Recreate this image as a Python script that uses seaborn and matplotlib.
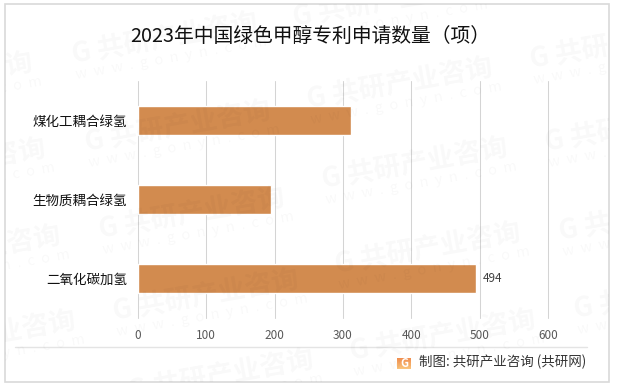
import numpy as np
import pandas as pd
import seaborn as sns
import matplotlib
matplotlib.use('Agg')
import matplotlib.pyplot as plt
from matplotlib.colors import LinearSegmentedColormap
from matplotlib.patches import Rectangle

categories = ['煤化工耦合绿氢', '生物质耦合绿氢', '二氧化碳加氢']
values = [312, 194, 494]
xticks = [0, 100, 200, 300, 400, 500, 600]
title = '2023年中国绿色甲醇专利申请数量（项）'
source = '制图: 共研产业咨询 (共研网)'

# watermark anchors in pixels, left edge of the logo text
wm_pos = [(72, 55), (85, 143), (99, 230), (113, 312), (128, 392),
          (293, 18), (307, 100), (322, 180), (335, 265), (350, 352),
          (530, 60), (545, 143), (559, 232), (574, 310),
          (-153, 95), (-140, 181), (-125, 268), (-110, 353)]

W, H = 617, 386
sns.set_theme(style='white')
plt.rcParams['font.family'] = ['Noto Sans CJK SC', 'DejaVu Sans']

df = pd.DataFrame({'category': categories, 'value': values})

fig = plt.figure(figsize=(W / 100, H / 100), dpi=100)
ax = fig.add_axes([138 / W, 1 - 318 / H, (548 - 138) / W, (318 - 81) / H])
ax.patch.set_alpha(0)

sns.barplot(data=df, y='category', x='value', color='#d28b4f', saturation=1, width=0.355, ax=ax, zorder=3)
ax.set_xlim(0, 600)
ax.set_xticks(xticks)
ax.set_xlabel('')
ax.set_ylabel('')
ax.tick_params(axis='x', length=0, labelsize=8.5, labelcolor='#595959', pad=8)
ax.tick_params(axis='y', length=0, labelsize=9.7, labelcolor='#111111', pad=8)
ax.grid(axis='x', color='#d4d4d4', linewidth=0.75)
ax.set_axisbelow(True)
for line in ax.get_xgridlines():
    line.set_clip_on(False)
sns.despine(ax=ax, top=True, right=True, left=True, bottom=True)

# only the last bar is labelled in the source
ax.text(values[2] + 10, 2, str(values[2]), fontsize=8.5, color='#404040', va='center', ha='left')

fig.text(310 / W, 1 - 37 / H, title, fontsize=14.25, color='#111111', ha='center', va='center')

# outer frame and footer
frame = Rectangle((4.5 / W, 1 - 381.5 / H), (609 - 4.5) / W, (381.5 - 3.5) / H, fill=False,
                  edgecolor='#d9d9d9', linewidth=1.2, transform=fig.transFigure)
fig.add_artist(frame)
fig.add_artist(plt.Line2D([15 / W, 587 / W], [1 - 347 / H, 1 - 347 / H], color='#e4e4e4', linewidth=1))

logo = fig.add_axes([397 / W, 1 - 369.5 / H, 14 / W, 12 / H])
logo_cmap = LinearSegmentedColormap.from_list('logo', ['#ef8a4c', '#fbc37a'])
logo.imshow(np.linspace(0, 1, 12).reshape(-1, 1), cmap=logo_cmap, aspect='auto')
logo.axis('off')
fig.text(404 / W, 1 - 363.5 / H, 'G', fontsize=8, fontweight='bold', color='white', ha='center', va='center')
fig.text(419 / W, 1 - 361.5 / H, source, fontsize=9.7, color='#333333', ha='left', va='center')

# watermarks sit over everything, very faint, cut at the frame
for x, y in wm_pos:
    t1 = fig.text(x / W, 1 - y / H, 'G 共研产业咨询', fontsize=19.5, fontweight='bold', color='black', alpha=0.028,
                  rotation=10, rotation_mode='anchor', ha='left', va='center', zorder=5)
    t2 = fig.text((x + 4) / W, 1 - (y + 20) / H, 'w  w  w  .  g  o  n  y  n  .  c  o  m', fontsize=10.5,
                  color='black', alpha=0.028, rotation=10, rotation_mode='anchor', ha='left', va='center', zorder=5)
    t1.set_clip_path(frame)
    t2.set_clip_path(frame)
    t1.set_clip_on(True)
    t2.set_clip_on(True)

fig.savefig('out.png', dpi=100)
